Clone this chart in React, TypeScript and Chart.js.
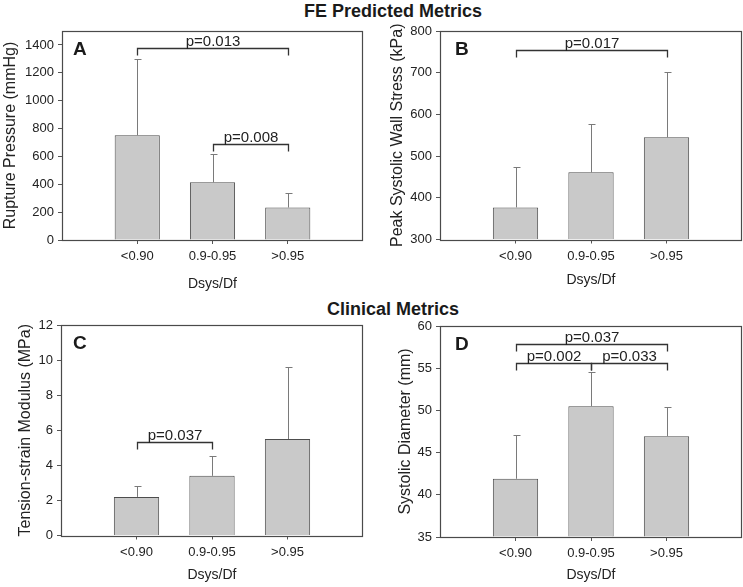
import React, { useEffect, useRef } from 'react';
import { Chart, registerables } from 'chart.js';

Chart.register(...registerables);

const W = 743;
const H = 587;
const FONT = "'Liberation Sans', Arial, Helvetica, sans-serif";

// ---- data ----
const categories = ['<0.90', '0.9-0.95', '>0.95'];
const xAxisTitle = 'Dsys/Df';
const sectionTitles = ['FE Predicted Metrics', 'Clinical Metrics'];

// Panel A: Rupture Pressure
const ruptureMean = [752, 414, 233];
const ruptureSD = [548, 200, 107];
const ruptureTicks = [0, 200, 400, 600, 800, 1000, 1200, 1400];
const ruptureBrackets: [number, number, number, string][] = [
  [0, 2, 1376, 'p=0.013'],
  [1, 2, 691, 'p=0.008'],
];

// Panel B: Peak Systolic Wall Stress
const stressMean = [377, 461, 545];
const stressSD = [97, 115, 157];
const stressTicks = [300, 400, 500, 600, 700, 800];
const stressBrackets: [number, number, number, string][] = [[0, 2, 755, 'p=0.017']];

// Panel C: Tension-strain Modulus
const modulusMean = [2.2, 3.4, 5.5];
const modulusSD = [0.62, 1.12, 4.1];
const modulusTicks = [0, 2, 4, 6, 8, 10, 12];
const modulusBrackets: [number, number, number, string][] = [[0, 1, 5.35, 'p=0.037']];

// Panel D: Systolic Diameter
const diameterMean = [41.9, 50.5, 46.95];
const diameterSD = [5.2, 4.1, 3.5];
const diameterTicks = [35, 40, 45, 50, 55, 60];
const diameterBrackets: [number, number, number, string][] = [
  [0, 2, 57.85, 'p=0.037'],
  [0, 1, 55.65, 'p=0.002'],
  [1, 2, 55.65, 'p=0.033'],
];

type Panel = {
  letter: string;
  yTitle: string;
  mean: number[];
  sd: number[];
  ticks: number[];
  yMin: number;
  yMax: number;
  brackets: [number, number, number, string][];
  area: { left: number; top: number; right: number; bottom: number };
  yTitleX: number;
  xTitleY: number;
  letterDx: number;
};

const panels: Panel[] = [
  {
    letter: 'A', yTitle: 'Rupture Pressure (mmHg)', mean: ruptureMean, sd: ruptureSD,
    ticks: ruptureTicks, yMin: 0, yMax: 1500, brackets: ruptureBrackets,
    area: { left: 62, top: 31, right: 363, bottom: 240 }, yTitleX: 10.7, xTitleY: 284.5, letterDx: 11,
  },
  {
    letter: 'B', yTitle: 'Peak Systolic Wall Stress (kPa)', mean: stressMean, sd: stressSD,
    ticks: stressTicks, yMin: 300, yMax: 800, brackets: stressBrackets,
    area: { left: 440, top: 31, right: 742, bottom: 239.5 }, yTitleX: 398, xTitleY: 280, letterDx: 15,
  },
  {
    letter: 'C', yTitle: 'Tension-strain Modulus (MPa)', mean: modulusMean, sd: modulusSD,
    ticks: modulusTicks, yMin: 0, yMax: 12, brackets: modulusBrackets,
    area: { left: 61, top: 325, right: 363, bottom: 535.5 }, yTitleX: 26, xTitleY: 575, letterDx: 12,
  },
  {
    letter: 'D', yTitle: 'Systolic Diameter (mm)', mean: diameterMean, sd: diameterSD,
    ticks: diameterTicks, yMin: 35, yMax: 60, brackets: diameterBrackets,
    area: { left: 440, top: 326, right: 742, bottom: 537 }, yTitleX: 405.5, xTitleY: 575, letterDx: 15,
  },
];

function makeExtras(p: Panel) {
  return {
    id: 'panelExtras' + p.letter,
    afterDatasetsDraw(chart: any) {
      const { ctx, chartArea: a } = chart;
      const x = chart.scales.x;
      const y = chart.scales.y;
      ctx.save();
      // error bars (upper only)
      ctx.strokeStyle = '#7a7a7a';
      ctx.lineWidth = 1;
      p.mean.forEach((m, i) => {
        const px = Math.round(x.getPixelForValue(i)) + 0.5;
        const yb = y.getPixelForValue(m);
        const yt = Math.round(y.getPixelForValue(m + p.sd[i])) + 0.5;
        ctx.beginPath();
        ctx.moveTo(px, yb);
        ctx.lineTo(px, yt);
        ctx.moveTo(px - 3, yt);
        ctx.lineTo(px + 4, yt);
        ctx.stroke();
      });
      // box
      ctx.strokeStyle = '#4a4a4a';
      ctx.lineWidth = 1.2;
      const l = Math.round(a.left) + 0.5;
      const t = Math.round(a.top) + 0.5;
      const r = Math.round(a.right) - 0.5;
      const b = Math.round(a.bottom) + 0.5;
      ctx.strokeRect(l, t, r - l, b - t);
      // brackets
      ctx.strokeStyle = '#333';
      ctx.lineWidth = 1.3;
      ctx.fillStyle = '#222';
      ctx.font = `15px ${FONT}`;
      ctx.textAlign = 'center';
      ctx.textBaseline = 'alphabetic';
      p.brackets.forEach(([i1, i2, v, label]) => {
        const x1 = Math.round(x.getPixelForValue(i1)) + 0.5;
        const x2 = Math.round(x.getPixelForValue(i2)) + 0.5;
        const yy = Math.round(y.getPixelForValue(v)) + 0.5;
        ctx.beginPath();
        ctx.moveTo(x1, yy + 7);
        ctx.lineTo(x1, yy);
        ctx.lineTo(x2, yy);
        ctx.lineTo(x2, yy + 7);
        ctx.stroke();
        ctx.fillText(label, (x1 + x2) / 2, yy - 3);
      });
      // panel letter
      ctx.font = `bold 19px ${FONT}`;
      ctx.textAlign = 'left';
      ctx.fillStyle = '#1a1a1a';
      ctx.fillText(p.letter, a.left + p.letterDx, a.top + 24);
      ctx.restore();
    },
  };
}

function PanelChart({ p }: { p: Panel }) {
  const ref = useRef<HTMLCanvasElement | null>(null);
  useEffect(() => {
    if (!ref.current) return;
    const titleLH = 16 * 1.2;
    const padLeft = p.yTitleX - titleLH / 2;
    const xLH = 14 * 1.2;
    const xBottom = p.xTitleY + xLH / 2;
    const chart = new Chart(ref.current, {
      type: 'bar',
      data: {
        datasets: [
          {
            data: p.mean.map((v, i) => ({ x: i, y: v })),
            backgroundColor: '#c9c9c9',
            borderColor: '#4d4d4d',
            borderWidth: 1,
            barPercentage: 0.6,
            categoryPercentage: 1,
            base: p.yMin,
          } as any,
        ],
      },
      options: {
        responsive: false,
        animation: false,
        events: [],
        layout: {
          padding: {
            left: padLeft,
            top: p.area.top,
            right: W - p.area.right,
            bottom: H - xBottom,
          },
        },
        plugins: {
          legend: { display: false },
          tooltip: { enabled: false },
          title: { display: false },
        },
        scales: {
          x: {
            type: 'linear',
            min: -1,
            max: 3,
            offset: false,
            grid: { display: true, offset: false, drawOnChartArea: false, drawTicks: true, tickLength: 4, color: '#555' },
            border: { display: false },
            afterBuildTicks: (s: any) => {
              s.ticks = categories.map((_, i) => ({ value: i }));
            },
            afterFit: (s: any) => {
              s.height = xBottom - p.area.bottom;
            },
            ticks: {
              autoSkip: false,
              maxRotation: 0,
              padding: 5,
              color: '#222',
              font: { family: FONT, size: 13 },
              callback: (v: any) => categories[Math.round(Number(v))] ?? '',
            },
            title: {
              display: true,
              text: xAxisTitle,
              color: '#222',
              padding: 0,
              font: { family: FONT, size: 14 },
            },
          },
          y: {
            type: 'linear',
            min: p.yMin,
            max: p.yMax,
            grid: { display: true, drawOnChartArea: false, drawTicks: true, tickLength: 4, color: '#555' },
            border: { display: false },
            afterBuildTicks: (s: any) => {
              s.ticks = p.ticks.map((v) => ({ value: v }));
            },
            afterFit: (s: any) => {
              s.width = p.area.left - padLeft;
            },
            ticks: {
              padding: 4,
              color: '#222',
              font: { family: FONT, size: 13 },
              callback: (v: any) => String(v),
            },
            title: {
              display: true,
              text: p.yTitle,
              color: '#222',
              padding: 0,
              font: { family: FONT, size: 16 },
            },
          },
        },
      } as any,
      plugins: [makeExtras(p)],
    });
    return () => chart.destroy();
  }, [p]);
  return (
    <canvas
      ref={ref}
      width={W}
      height={H}
      style={{ position: 'absolute', left: 0, top: 0, width: W, height: H }}
    />
  );
}

export default function App() {
  const titleStyle = (top: number): React.CSSProperties => ({
    position: 'absolute',
    left: 293,
    width: 200,
    top,
    height: 22,
    lineHeight: '22px',
    textAlign: 'center',
    fontFamily: FONT,
    fontWeight: 'bold',
    fontSize: 18,
    color: '#1a1a1a',
    whiteSpace: 'nowrap',
  });
  return (
    <div style={{ position: 'absolute', left: 0, top: 0, width: W, height: H, background: '#fff' }}>
      <div style={titleStyle(-0.5)}>{sectionTitles[0]}</div>
      <div style={titleStyle(298)}>{sectionTitles[1]}</div>
      {panels.map((p) => (
        <PanelChart key={p.letter} p={p} />
      ))}
    </div>
  );
}
